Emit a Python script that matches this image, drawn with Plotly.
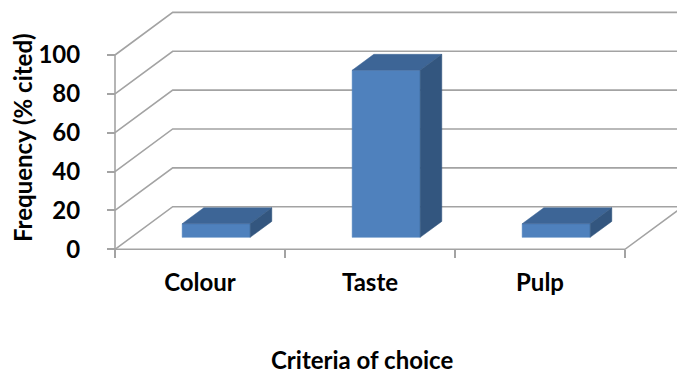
import plotly.graph_objects as go

# Survey results
categories = ["Colour", "Taste", "Pulp"]
frequency = [7, 86, 7]
y_ticks = [0, 20, 40, 60, 80, 100]

# Canvas and pixel layout
W, H = 677, 376
L, R, T, B = 100, 0, 0, 120
PX_PER_CAT = 170.0           # horizontal pixels per category slot
PX_PER_UNIT = 1.943          # vertical pixels per percentage point
AXIS_X_PX = 115.0            # front-left corner (pixel column)
AXIS_Y_PX = 249.3            # front floor line (pixel row)

# Oblique depth of the 3-D box, expressed in data units
DEPTH_DX = 57.7 / PX_PER_CAT
DEPTH_DY = 42.6 / PX_PER_UNIT
BAR_HALF = 0.2
D0, D1 = 0.28, 0.655

plot_w, plot_h = W - L - R, H - T - B
x_lo = -0.5 - (AXIS_X_PX - L) / PX_PER_CAT
x_hi = x_lo + plot_w / PX_PER_CAT
y_lo = -((T + plot_h) - AXIS_Y_PX) / PX_PER_UNIT
y_hi = y_lo + plot_h / PX_PER_UNIT


def proj(x, v, d):
    return x + DEPTH_DX * d, v + DEPTH_DY * d


def paper_x(px):
    return (px - L) / plot_w


def paper_y(py):
    return (T + plot_h - py) / plot_h


GRID = "#a3a3a3"
FRONT = "#4f81bd"
TOP = "#3d6596"
SIDE = "#33567f"

fig = go.Figure()

# Wall gridlines: left-wall diagonals and back-wall horizontals
gx, gy = [], []
for v in y_ticks:
    bx, by = proj(-0.5, v, 1)
    gx += [-0.5, bx, x_hi + 1, None]
    gy += [v, by, by, None]
# floor: front edge and right-hand diagonal, plus front vertical edge
fx0, fy0 = proj(2.5, 0, 1)
gx += [-0.5, 2.5, fx0, None, -0.5, -0.5, None]
gy += [0, 0, fy0, None, 0, 100, None]
fig.add_trace(go.Scatter(x=gx, y=gy, mode="lines",
                         line=dict(color=GRID, width=1.6),
                         hoverinfo="skip", showlegend=False))

# 3-D columns: front, top and right-side faces
for i, v in enumerate(frequency):
    xa, xb = i - BAR_HALF, i + BAR_HALF
    faces = [
        ([(xa, 0, D0), (xb, 0, D0), (xb, v, D0), (xa, v, D0)], FRONT),
        ([(xa, v, D0), (xb, v, D0), (xb, v, D1), (xa, v, D1)], TOP),
        ([(xb, 0, D0), (xb, 0, D1), (xb, v, D1), (xb, v, D0)], SIDE),
    ]
    for pts, col in faces:
        xy = [proj(*p) for p in pts]
        xs = [p[0] for p in xy] + [xy[0][0]]
        ys = [p[1] for p in xy] + [xy[0][1]]
        fig.add_trace(go.Scatter(x=xs, y=ys, mode="lines", fill="toself",
                                 fillcolor=col, line=dict(color=col, width=0.5),
                                 hoverinfo="skip", showlegend=False))

FONT = dict(family="Lato", size=24, color="black", weight="bold")

fig.update_layout(
    width=W, height=H,
    margin=dict(l=L, r=R, t=T, b=B),
    paper_bgcolor="white", plot_bgcolor="white",
    font=FONT,
    xaxis=dict(
        range=[x_lo, x_hi], anchor="free",
        position=paper_y(AXIS_Y_PX),
        tickvals=list(range(len(categories))), ticktext=categories,
        ticks="", showgrid=False, zeroline=False, showline=False,
        ticklabelstandoff=17, tickfont=FONT,
        minor=dict(tickvals=[-0.5, 0.5, 1.5, 2.5], ticks="outside",
                   ticklen=8, tickwidth=1.6, tickcolor=GRID, showgrid=False),
    ),
    yaxis=dict(
        range=[y_lo, y_hi], anchor="free",
        position=paper_x(AXIS_X_PX),
        tickvals=y_ticks, ticks="outside", ticklen=8, tickwidth=1.6,
        tickcolor=GRID, showgrid=False, zeroline=False, showline=False,
        ticklabelstandoff=22, tickfont=FONT,
    ),
    annotations=[
        dict(text="Frequency (% cited)", textangle=-90, showarrow=False,
             xref="paper", yref="paper", x=paper_x(22), y=paper_y(138),
             xanchor="center", yanchor="middle", font=FONT),
        dict(text="Criteria of choice", showarrow=False,
             xref="paper", yref="paper", x=paper_x(362), y=paper_y(359),
             xanchor="center", yanchor="middle", font=FONT),
    ],
)

fig.write_html("out.html")
